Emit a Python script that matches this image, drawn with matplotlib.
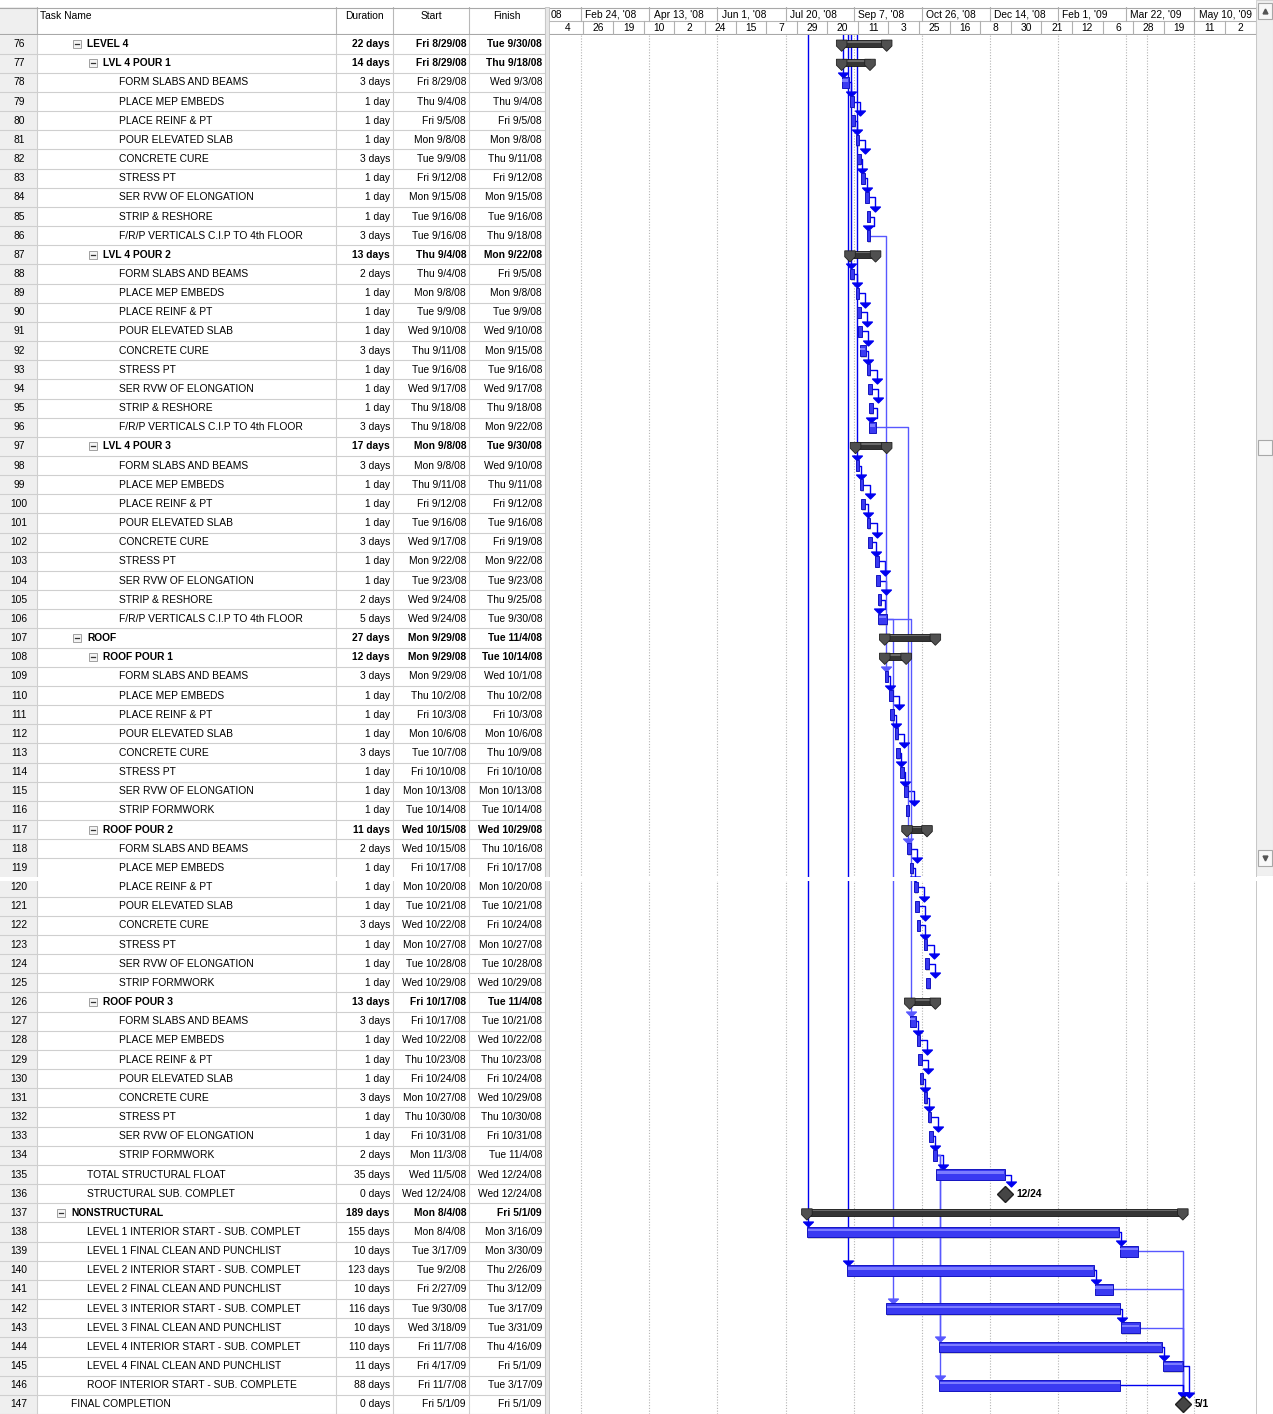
import matplotlib
matplotlib.use("Agg")
import matplotlib.pyplot as plt
import matplotlib.dates as mdates
from matplotlib.patches import Rectangle, Polygon
from matplotlib.path import Path
from datetime import datetime

plt.rcParams['font.family'] = ['Liberation Sans', 'DejaVu Sans']

# ---------------- task table (rows 76 - 147) ----------------
task_ids = list(range(76, 148))
task_names = [
    "LEVEL 4", "LVL 4 POUR 1",
    "FORM SLABS AND BEAMS", "PLACE MEP EMBEDS", "PLACE REINF & PT", "POUR ELEVATED SLAB",
    "CONCRETE CURE", "STRESS PT", "SER RVW OF ELONGATION", "STRIP & RESHORE",
    "F/R/P VERTICALS C.I.P TO 4th FLOOR",
    "LVL 4 POUR 2",
    "FORM SLABS AND BEAMS", "PLACE MEP EMBEDS", "PLACE REINF & PT", "POUR ELEVATED SLAB",
    "CONCRETE CURE", "STRESS PT", "SER RVW OF ELONGATION", "STRIP & RESHORE",
    "F/R/P VERTICALS C.I.P TO 4th FLOOR",
    "LVL 4 POUR 3",
    "FORM SLABS AND BEAMS", "PLACE MEP EMBEDS", "PLACE REINF & PT", "POUR ELEVATED SLAB",
    "CONCRETE CURE", "STRESS PT", "SER RVW OF ELONGATION", "STRIP & RESHORE",
    "F/R/P VERTICALS C.I.P TO 4th FLOOR",
    "ROOF", "ROOF POUR 1",
    "FORM SLABS AND BEAMS", "PLACE MEP EMBEDS", "PLACE REINF & PT", "POUR ELEVATED SLAB",
    "CONCRETE CURE", "STRESS PT", "SER RVW OF ELONGATION", "STRIP FORMWORK",
    "ROOF POUR 2",
    "FORM SLABS AND BEAMS", "PLACE MEP EMBEDS", "PLACE REINF & PT", "POUR ELEVATED SLAB",
    "CONCRETE CURE", "STRESS PT", "SER RVW OF ELONGATION", "STRIP FORMWORK",
    "ROOF POUR 3",
    "FORM SLABS AND BEAMS", "PLACE MEP EMBEDS", "PLACE REINF & PT", "POUR ELEVATED SLAB",
    "CONCRETE CURE", "STRESS PT", "SER RVW OF ELONGATION", "STRIP FORMWORK",
    "TOTAL STRUCTURAL FLOAT", "STRUCTURAL SUB. COMPLET",
    "NONSTRUCTURAL",
    "LEVEL 1 INTERIOR START - SUB. COMPLET", "LEVEL 1 FINAL CLEAN AND PUNCHLIST",
    "LEVEL 2 INTERIOR START - SUB. COMPLET", "LEVEL 2 FINAL CLEAN AND PUNCHLIST",
    "LEVEL 3 INTERIOR START - SUB. COMPLET", "LEVEL 3 FINAL CLEAN AND PUNCHLIST",
    "LEVEL 4 INTERIOR START - SUB. COMPLET", "LEVEL 4 FINAL CLEAN AND PUNCHLIST",
    "ROOF INTERIOR START - SUB. COMPLETE",
    "FINAL COMPLETION",
]
task_level = ([1, 2] + [3] * 9 + [2] + [3] * 9 + [2] + [3] * 9 +
              [1, 2] + [3] * 8 + [2] + [3] * 8 + [2] + [3] * 8 +
              [1, 1, 0] + [1] * 9 + [0])
summary_ids = [76, 77, 87, 97, 107, 108, 117, 126, 137]
durations = [
    "22 days", "14 days", "3 days", "1 day", "1 day", "1 day", "3 days", "1 day", "1 day", "1 day", "3 days",
    "13 days", "2 days", "1 day", "1 day", "1 day", "3 days", "1 day", "1 day", "1 day", "3 days",
    "17 days", "3 days", "1 day", "1 day", "1 day", "3 days", "1 day", "1 day", "2 days", "5 days",
    "27 days", "12 days", "3 days", "1 day", "1 day", "1 day", "3 days", "1 day", "1 day", "1 day",
    "11 days", "2 days", "1 day", "1 day", "1 day", "3 days", "1 day", "1 day", "1 day",
    "13 days", "3 days", "1 day", "1 day", "1 day", "3 days", "1 day", "1 day", "2 days",
    "35 days", "0 days", "189 days",
    "155 days", "10 days", "123 days", "10 days", "116 days", "10 days", "110 days", "11 days",
    "88 days", "0 days",
]
starts = [
    "Fri 8/29/08", "Fri 8/29/08", "Fri 8/29/08", "Thu 9/4/08", "Fri 9/5/08", "Mon 9/8/08",
    "Tue 9/9/08", "Fri 9/12/08", "Mon 9/15/08", "Tue 9/16/08", "Tue 9/16/08",
    "Thu 9/4/08", "Thu 9/4/08", "Mon 9/8/08", "Tue 9/9/08", "Wed 9/10/08", "Thu 9/11/08",
    "Tue 9/16/08", "Wed 9/17/08", "Thu 9/18/08", "Thu 9/18/08",
    "Mon 9/8/08", "Mon 9/8/08", "Thu 9/11/08", "Fri 9/12/08", "Tue 9/16/08", "Wed 9/17/08",
    "Mon 9/22/08", "Tue 9/23/08", "Wed 9/24/08", "Wed 9/24/08",
    "Mon 9/29/08", "Mon 9/29/08", "Mon 9/29/08", "Thu 10/2/08", "Fri 10/3/08", "Mon 10/6/08",
    "Tue 10/7/08", "Fri 10/10/08", "Mon 10/13/08", "Tue 10/14/08",
    "Wed 10/15/08", "Wed 10/15/08", "Fri 10/17/08", "Mon 10/20/08", "Tue 10/21/08",
    "Wed 10/22/08", "Mon 10/27/08", "Tue 10/28/08", "Wed 10/29/08",
    "Fri 10/17/08", "Fri 10/17/08", "Wed 10/22/08", "Thu 10/23/08", "Fri 10/24/08",
    "Mon 10/27/08", "Thu 10/30/08", "Fri 10/31/08", "Mon 11/3/08",
    "Wed 11/5/08", "Wed 12/24/08", "Mon 8/4/08",
    "Mon 8/4/08", "Tue 3/17/09", "Tue 9/2/08", "Fri 2/27/09", "Tue 9/30/08", "Wed 3/18/09",
    "Fri 11/7/08", "Fri 4/17/09", "Fri 11/7/08", "Fri 5/1/09",
]
finishes = [
    "Tue 9/30/08", "Thu 9/18/08", "Wed 9/3/08", "Thu 9/4/08", "Fri 9/5/08", "Mon 9/8/08",
    "Thu 9/11/08", "Fri 9/12/08", "Mon 9/15/08", "Tue 9/16/08", "Thu 9/18/08",
    "Mon 9/22/08", "Fri 9/5/08", "Mon 9/8/08", "Tue 9/9/08", "Wed 9/10/08", "Mon 9/15/08",
    "Tue 9/16/08", "Wed 9/17/08", "Thu 9/18/08", "Mon 9/22/08",
    "Tue 9/30/08", "Wed 9/10/08", "Thu 9/11/08", "Fri 9/12/08", "Tue 9/16/08", "Fri 9/19/08",
    "Mon 9/22/08", "Tue 9/23/08", "Thu 9/25/08", "Tue 9/30/08",
    "Tue 11/4/08", "Tue 10/14/08", "Wed 10/1/08", "Thu 10/2/08", "Fri 10/3/08", "Mon 10/6/08",
    "Thu 10/9/08", "Fri 10/10/08", "Mon 10/13/08", "Tue 10/14/08",
    "Wed 10/29/08", "Thu 10/16/08", "Fri 10/17/08", "Mon 10/20/08", "Tue 10/21/08",
    "Fri 10/24/08", "Mon 10/27/08", "Tue 10/28/08", "Wed 10/29/08",
    "Tue 11/4/08", "Tue 10/21/08", "Wed 10/22/08", "Thu 10/23/08", "Fri 10/24/08",
    "Wed 10/29/08", "Thu 10/30/08", "Fri 10/31/08", "Tue 11/4/08",
    "Wed 12/24/08", "Wed 12/24/08", "Fri 5/1/09",
    "Mon 3/16/09", "Mon 3/30/09", "Thu 2/26/09", "Thu 3/12/09", "Tue 3/17/09", "Tue 3/31/09",
    "Thu 4/16/09", "Fri 5/1/09", "Tue 3/17/09", "Fri 5/1/09",
]

# predecessor -> successor links
links = ([(i, i + 1) for i in range(78, 86)] + [(i, i + 1) for i in range(88, 96)] +
         [(i, i + 1) for i in range(98, 106)] + [(i, i + 1) for i in range(109, 116)] +
         [(i, i + 1) for i in range(118, 125)] + [(i, i + 1) for i in range(127, 134)] +
         [(86, 109), (96, 118), (106, 127), (106, 142),
          (134, 135), (135, 136), (134, 144), (134, 146),
          (138, 139), (140, 141), (142, 143), (144, 145),
          (139, 147), (141, 147), (143, 147), (145, 147), (146, 147)])
offscreen_links = [78, 88, 98, 138, 140]   # predecessors above row 76

# timescale
major_dates = ["2008-02-24", "2008-04-13", "2008-06-01", "2008-07-20", "2008-09-07",
               "2008-10-26", "2008-12-14", "2009-02-01", "2009-03-22", "2009-05-10"]
first_major_tail = "08"          # visible end of the cut-off "Jan 6, '08" cell
minor_labels = ["4", "26", "19", "10", "2", "24", "15", "7", "29", "20", "11", "3",
                "25", "16", "8", "30", "21", "12", "6", "28", "19", "11", "2"]
minor_first = datetime(2008, 2, 14)
minor_step = 22
status_date = datetime(2009, 4, 6)
view_start = datetime(2008, 1, 31, 20)
view_end = datetime(2009, 6, 23, 8)

# ---------------- layout ----------------
W, H = 1273, 1414
BODY_TOP, BODY_BOT, HEAD_TOP = 34.5, 1414, 7
TAB_R, G_L, G_R = 545, 549, 1256
FS = 7.4
GRID = '#cfcfcf'
BLUE = '#0000f0'


def rect(x0, y0, x1, y1):
    return [x0 / W, 1 - y1 / H, (x1 - x0) / W, (y1 - y0) / H]


def parse(s):
    return datetime.strptime(s.split()[1], "%m/%d/%y")


fig = plt.figure(figsize=(W / 100, H / 100), dpi=100)
ax_t = fig.add_axes(rect(0, BODY_TOP, TAB_R, BODY_BOT))
ax_g = fig.add_axes(rect(G_L, BODY_TOP, G_R, BODY_BOT))
ax_th = fig.add_axes(rect(0, HEAD_TOP, TAB_R, BODY_TOP))
ax_gh = fig.add_axes(rect(G_L, HEAD_TOP, G_R, BODY_TOP))
ax_sb = fig.add_axes(rect(G_R, 0, W, 876))
for a in (ax_t, ax_g, ax_th, ax_gh, ax_sb):
    a.set_axis_off()

first_row, last_row = task_ids[0], task_ids[-1]
for a in (ax_t, ax_g):
    a.set_ylim(last_row + 0.5, first_row - 0.5)
ax_t.set_xlim(0, TAB_R)
ax_th.set_xlim(0, TAB_R)
ax_th.set_ylim(BODY_TOP, HEAD_TOP)
xl = (mdates.date2num(view_start), mdates.date2num(view_end))
ax_g.set_xlim(*xl)
ax_gh.set_xlim(*xl)
ax_gh.set_ylim(BODY_TOP, HEAD_TOP)

# ---------------- table header ----------------
ax_th.add_patch(Rectangle((0, HEAD_TOP), 37, BODY_TOP - HEAD_TOP, fc='#efefef', ec='none'))
for xv in (37, 336, 393, 469, TAB_R):
    ax_th.plot([xv, xv], [HEAD_TOP, BODY_TOP], color='#b8b8b8', lw=0.8)
ax_th.plot([0, TAB_R], [HEAD_TOP + 0.5, HEAD_TOP + 0.5], color='#a8a8a8', lw=0.8)
ax_th.plot([0, TAB_R], [BODY_TOP - 0.5, BODY_TOP - 0.5], color='#a8a8a8', lw=0.8)
ax_th.text(40, 16, "Task Name", fontsize=FS, va='center', ha='left')
ax_th.text(364, 16, "Duration", fontsize=FS, va='center', ha='center')
ax_th.text(431, 16, "Start", fontsize=FS, va='center', ha='center')
ax_th.text(507, 16, "Finish", fontsize=FS, va='center', ha='center')

# ---------------- table body ----------------
ax_t.add_patch(Rectangle((0, first_row - 0.5), 37, len(task_ids), fc='#efefef', ec='none'))
for r in task_ids:
    ax_t.plot([0, TAB_R], [r + 0.5, r + 0.5], color=GRID, lw=0.8)
for xv in (37, 336, 393, 469, TAB_R):
    ax_t.plot([xv, xv], [first_row - 0.5, last_row + 0.5], color=GRID, lw=0.8)

for i, tid in enumerate(task_ids):
    is_sum = tid in summary_ids
    fw = 'bold' if is_sum else 'normal'
    tx = 71 + 16 * task_level[i]
    ax_t.text(19, tid, str(tid), fontsize=FS, va='center', ha='center')
    ax_t.text(tx, tid, task_names[i], fontsize=FS, va='center', ha='left', fontweight=fw)
    if is_sum:
        bx = tx - 10
        ax_t.add_patch(Rectangle((bx - 4, tid - 0.21), 8, 0.42, fc='#f4f4f4', ec='#a0a0a0', lw=0.7))
        ax_t.plot([bx - 2.3, bx + 2.3], [tid, tid], color='#303030', lw=0.9)
    ax_t.text(390, tid, durations[i], fontsize=FS, va='center', ha='right', fontweight=fw)
    ax_t.text(466, tid, starts[i], fontsize=FS, va='center', ha='right', fontweight=fw)
    ax_t.text(542, tid, finishes[i], fontsize=FS, va='center', ha='right', fontweight=fw)

# ---------------- timescale header ----------------
maj = [mdates.date2num(datetime.strptime(d, "%Y-%m-%d")) for d in major_dates]
ax_gh.plot(xl, [HEAD_TOP + 0.5] * 2, color='#a8a8a8', lw=0.8)
ax_gh.plot(xl, [21, 21], color='#b8b8b8', lw=0.8)
ax_gh.plot(xl, [BODY_TOP - 0.5] * 2, color='#a8a8a8', lw=0.8)
ax_gh.text(xl[0] + 1.5, 14.5, first_major_tail, fontsize=FS, va='center', ha='left')
for d, m in zip(major_dates, maj):
    ax_gh.plot([m, m], [HEAD_TOP, 21], color='#b0b0b0', lw=0.8)
    lbl = datetime.strptime(d, "%Y-%m-%d").strftime("%b %-d, '%y")
    ax_gh.text(m + 3, 14.5, lbl, fontsize=FS, va='center', ha='left')
m0 = mdates.date2num(minor_first)
for k, lbl in enumerate(minor_labels):
    c = m0 + k * minor_step
    ax_gh.text(c, 28, lbl, fontsize=FS, va='center', ha='center')
    ax_gh.plot([c + minor_step / 2] * 2, [21, BODY_TOP], color='#b0b0b0', lw=0.8)

# ---------------- gantt body ----------------
for m in maj + [mdates.date2num(status_date)]:
    ax_g.axvline(m, color='#b4b4b4', lw=0.8, ls=(0, (1, 1.5)), zorder=0)

MIN_W = 2.6
spans = {}
for i, tid in enumerate(task_ids):
    s = mdates.date2num(parse(starts[i])) + 8 / 24
    f = mdates.date2num(parse(finishes[i])) + 17 / 24
    if durations[i] == "0 days":
        spans[tid] = (f, f, 'mile')
    elif tid in summary_ids:
        spans[tid] = (s, f, 'sum')
    else:
        spans[tid] = (s, max(f, s + MIN_W), 'task')

arrow = Path([(-1, 0.5), (1, 0.5), (0, -0.5), (-1, 0.5)],
             [Path.MOVETO, Path.LINETO, Path.LINETO, Path.CLOSEPOLY])


def link_geometry(p, s):
    pend = spans[p][1]
    s0, _, kind = spans[s]
    ytip = s - (0.5 if kind == 'mile' else 0.40)
    sx = s0 if kind == 'mile' else s0 + 0.9
    if abs(sx - pend) < 0.8:
        xa = pend + 4.5
        return [pend, xa, xa], [p, p, ytip]
    if sx > pend:
        return [pend, sx, sx], [p, p, ytip]
    xe = pend + 2.5
    return [pend, xe, xe, sx, sx], [p, p, p + 0.5, p + 0.5, ytip]


for p, s in links:
    xs, ys = link_geometry(p, s)
    col = '#5858ff' if s - p > 2 else BLUE
    ax_g.plot(xs, ys, color=col, lw=1.0, zorder=3)
    ax_g.plot(xs[-1], ys[-1], marker=arrow, ms=7, color=col, mec=col, zorder=4)

for s in offscreen_links:
    sx = spans[s][0] + 0.9
    ytip = s - 0.40
    ax_g.plot([sx, sx], [first_row - 0.5, ytip], color=BLUE, lw=1.0, zorder=3)
    ax_g.plot(sx, ytip, marker=arrow, ms=7, color=BLUE, mec=BLUE, zorder=4)

CAP = 3.8
for tid, (x0, x1, kind) in spans.items():
    if kind == 'task':
        w = x1 - x0
        ax_g.barh(tid + 0.08, w, left=x0 + 0.6, height=0.56, color='#d0d0d0', lw=0, zorder=1)
        ax_g.barh(tid, w, left=x0, height=0.56, color='#3a3af2', edgecolor='#1414c0',
                  lw=0.7, zorder=5)
        if w > 4:
            ax_g.barh(tid - 0.1, w - 1.0, left=x0 + 0.5, height=0.12, color='#7c7cff',
                      lw=0, zorder=6)
    elif kind == 'sum':
        ax_g.barh(tid - 0.03, x1 - x0, left=x0, height=0.36, color='#353535',
                  edgecolor='#151515', lw=0.6, zorder=5)
        ax_g.barh(tid - 0.12, x1 - x0, left=x0, height=0.08, color='#6a6a6a', lw=0, zorder=6)
        for cx in (x0, x1):
            ax_g.add_patch(Polygon([(cx - CAP, tid - 0.21), (cx + CAP, tid - 0.21),
                                    (cx + CAP, tid + 0.1), (cx, tid + 0.38),
                                    (cx - CAP, tid + 0.1)], closed=True,
                                   fc='#505050', ec='#202020', lw=0.6, zorder=7))
    else:
        ax_g.plot(x0, tid, marker='D', ms=8, color='#454545', mec='#202020', zorder=7)
        d = parse(finishes[task_ids.index(tid)])
        ax_g.annotate(f"{d.month}/{d.day}", (x0, tid), xytext=(12, 0),
                      textcoords='offset pixels', fontsize=FS, fontweight='bold',
                      va='center', ha='left')

# ---------------- chrome: divider, scrollbar, page-join gap ----------------
fig.add_artist(Rectangle((TAB_R / W, 0), (G_L - TAB_R) / W, 1 - HEAD_TOP / H,
                         transform=fig.transFigure, fc='#e6e6e6', ec='#c0c0c0', lw=0.6))
fig.add_artist(Rectangle((G_R / W, 0), 0.6 / W, 1 - HEAD_TOP / H,
                         transform=fig.transFigure, fc='#c8c8c8', ec='none'))

ax_sb.set_xlim(0, W - G_R)
ax_sb.set_ylim(876, 0)
ax_sb.add_patch(Rectangle((0, 0), W - G_R, 876, fc='#f0f0f0', ec='#d4d4d4', lw=0.8))
for y0 in (3, 850):
    ax_sb.add_patch(Rectangle((1.5, y0), 14, 16, fc='#f8f8f8', ec='#a8a8a8', lw=0.8))
ax_sb.plot(8.5, 11, marker='^', ms=3.5, color='#555555')
ax_sb.plot(8.5, 858, marker='v', ms=3.5, color='#555555')
ax_sb.add_patch(Rectangle((1.5, 440), 14, 15, fc='#f6f6f6', ec='#a8a8a8', lw=0.8))

fig.add_artist(Rectangle((0, 1 - 881 / H), 1, 4 / H, transform=fig.transFigure,
                         fc='white', ec='none', zorder=20))

fig.savefig("out.png", dpi=100, facecolor='white')
